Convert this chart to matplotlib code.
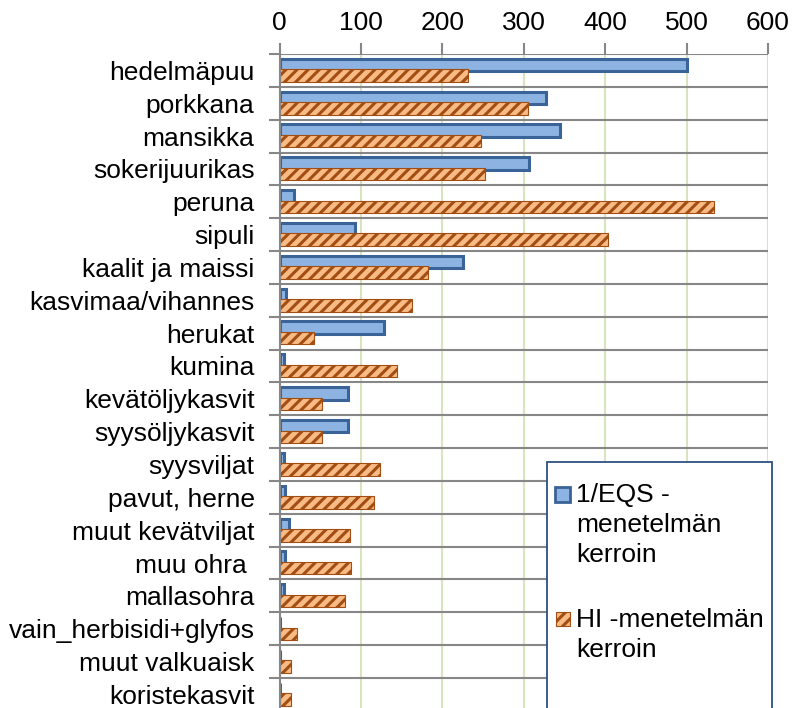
import matplotlib
matplotlib.use("Agg")
import matplotlib.pyplot as plt
from matplotlib.patches import Rectangle
import numpy as np

plt.rcParams["font.family"] = ["Liberation Sans", "DejaVu Sans"]
plt.rcParams["hatch.linewidth"] = 2.2

crops = ["hedelmäpuu", "porkkana", "mansikka", "sokerijuurikas", "peruna",
         "sipuli", "kaalit ja maissi", "kasvimaa/vihannes", "herukat",
         "kumina", "kevätöljykasvit", "syysöljykasvit", "syysviljat",
         "pavut, herne", "muut kevätviljat", "muu ohra ", "mallasohra",
         "vain_herbisidi+glyfos", "muut valkuaisk", "koristekasvit"]
eqs = [500, 327, 344, 307, 18, 93, 225, 8, 128, 5.5,
       84, 84, 5.5, 7, 12, 7, 5, 0.5, 0.5, 0.5]
hi = [232, 305, 247, 253, 534, 404, 183, 163, 42, 144,
      52, 52, 123, 116, 87, 88, 80, 22, 14.5, 14.5]
xticks = [0, 100, 200, 300, 400, 500, 600]
legend_lines = [["1/EQS -", "menetelmän", "kerroin"],
                ["HI -menetelmän", "kerroin"]]

BLUE_FILL, BLUE_EDGE = "#8db3e2", "#3a6397"
ORANGE_FILL, ORANGE_HATCH = "#f8bb85", "#a24d12"
GRID_V, GRID_H, LEGEND_EDGE = "#d7e4bd", "#878787", "#2c5281"
FS = 19

W, H = 793, 708
fig = plt.figure(figsize=(W / 100, H / 100), dpi=100)
ax = fig.add_axes([279.5 / W, 1 - 710.8 / H, 488.5 / W, 656.8 / H])

y = np.arange(len(crops))
h = 0.38
ax.barh(y - 0.165, eqs, height=h, color=BLUE_FILL, edgecolor=BLUE_EDGE,
        linewidth=2.2, zorder=3)
ax.barh(y + 0.155, hi, height=h, color=ORANGE_FILL, edgecolor=ORANGE_HATCH,
        hatch="///", linewidth=0.8, zorder=4)

ax.set_xlim(0, 600)
ax.set_ylim(len(crops) - 0.5, -0.5)
ax.xaxis.tick_top()
ax.set_xticks(xticks)
ax.tick_params(axis="x", direction="out", length=8, width=1.5,
               color=GRID_H, labelsize=FS, pad=6)
ax.set_yticks(y)
ax.set_yticklabels(crops, fontsize=FS)
ax.tick_params(axis="y", which="major", length=0, pad=18)
ax.set_yticks(np.arange(-0.5, len(crops), 1.0), minor=True)
ax.tick_params(axis="y", which="minor", direction="out", length=8,
               width=1.5, color=GRID_H)

for v in xticks[1:]:
    ax.axvline(v, color=GRID_V, linewidth=1.5, zorder=1)
ax.grid(axis="y", which="minor", color=GRID_H, linewidth=1.5, zorder=2)

for side in ("top", "right", "bottom"):
    ax.spines[side].set_visible(False)
ax.spines["left"].set_color(GRID_H)
ax.spines["left"].set_linewidth(1.5)
ax.spines["left"].set_zorder(5)

# legend box runs off the bottom edge of the figure
fig.patches.append(Rectangle((547 / W, -0.05), 225 / W, 1 - 462 / H + 0.05,
                             transform=fig.transFigure, facecolor="white",
                             edgecolor=LEGEND_EDGE, linewidth=1.3, zorder=10))
keys = [dict(xy=(555, 502), size=15, facecolor=BLUE_FILL,
             edgecolor=BLUE_EDGE, linewidth=2),
        dict(xy=(556, 626), size=14, facecolor=ORANGE_FILL,
             edgecolor=ORANGE_HATCH, hatch="///", linewidth=0.8)]
first_line = [495, 620]
for key, lines, y0 in zip(keys, legend_lines, first_line):
    (kx, ky), s = key.pop("xy"), key.pop("size")
    fig.patches.append(Rectangle((kx / W, 1 - ky / H), s / W, s / H,
                                 transform=fig.transFigure, zorder=11, **key))
    for i, line in enumerate(lines):
        fig.text(576 / W, 1 - (y0 + 30 * i) / H, line, fontsize=FS,
                 va="center", ha="left", zorder=12)

fig.savefig("out.png", dpi=100)
